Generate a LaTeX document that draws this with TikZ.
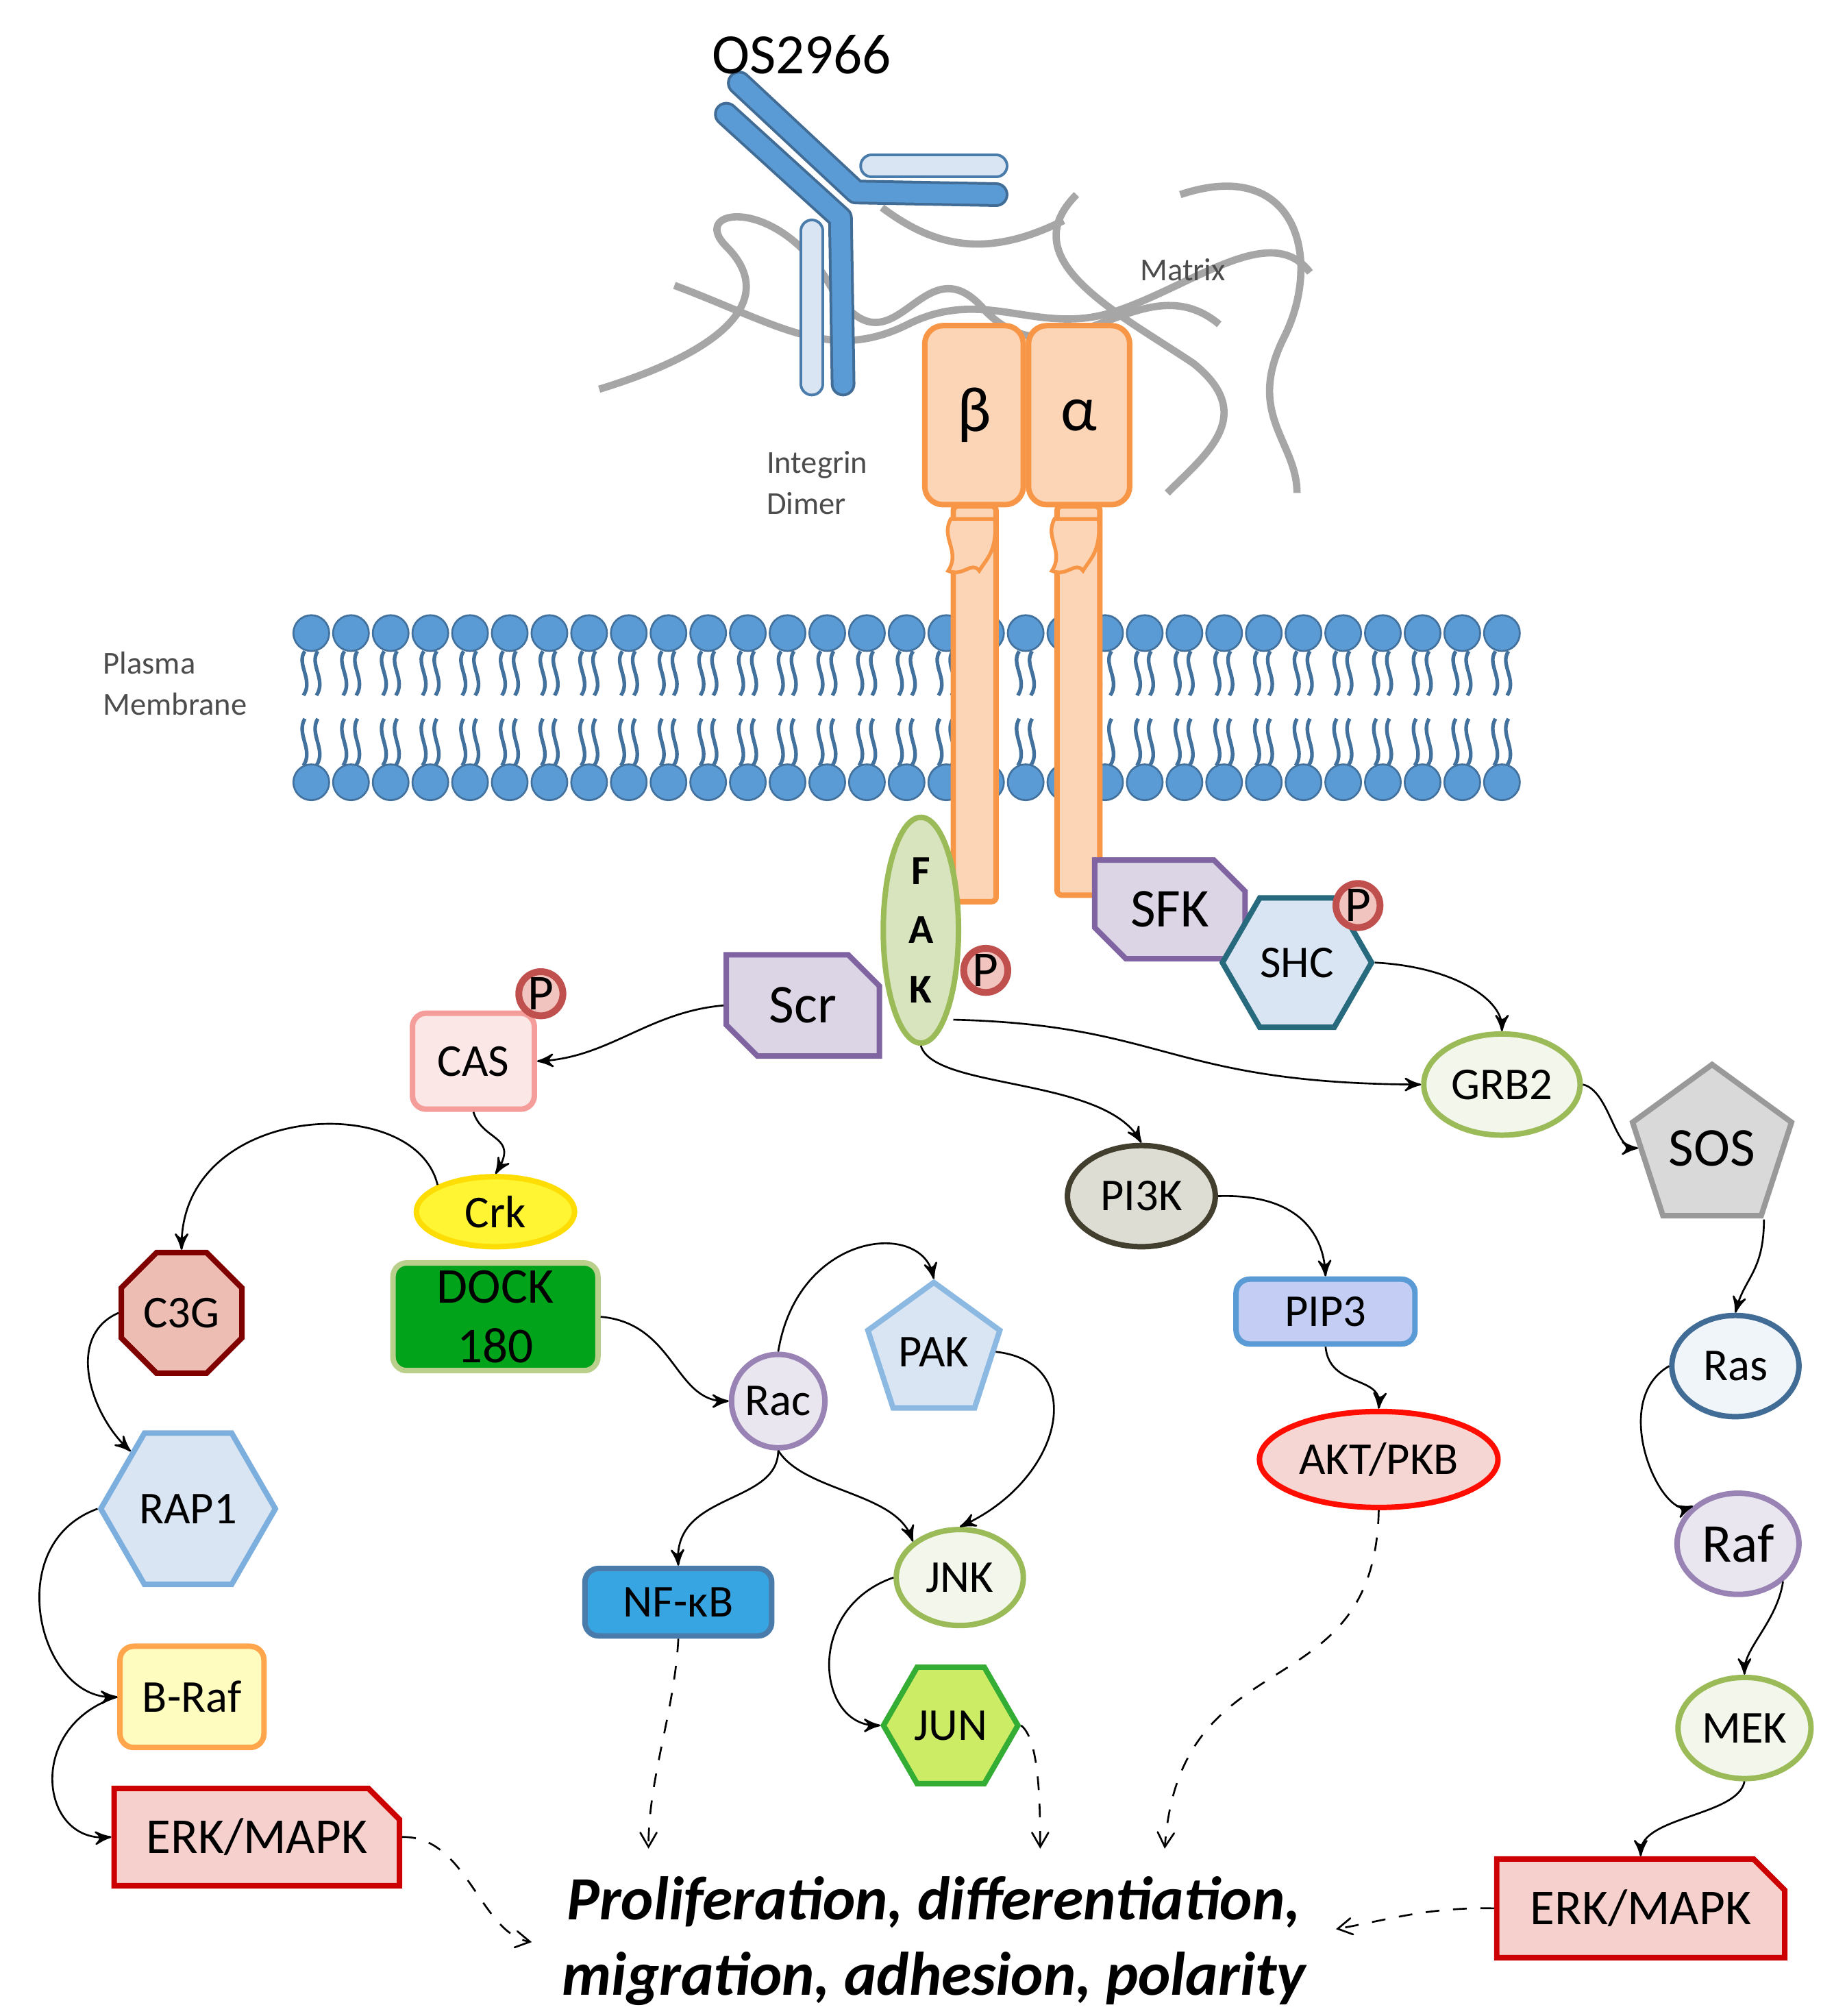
\documentclass[tikz,border=0pt]{standalone}
\usepackage{fontspec}
\setmainfont{Carlito}
\usepackage{tikz}
\usetikzlibrary{arrows,shapes.geometric,shapes.misc,calc,positioning}
\definecolor{memb}{HTML}{5B9BD5}
\definecolor{membd}{HTML}{41719C}
\definecolor{igfill}{HTML}{FBD5B5}
\definecolor{igline}{HTML}{F79646}
\definecolor{purpf}{HTML}{DCD5E6}
\definecolor{purpl}{HTML}{8064A2}
\definecolor{bluef}{HTML}{DAE5F3}
\definecolor{bluel}{HTML}{31859C}
\definecolor{pinkf}{HTML}{F2C4C0}
\definecolor{pinkl}{HTML}{C0504D}
\definecolor{greenf}{HTML}{D7E4BD}
\definecolor{greenl}{HTML}{9BBB59}
\tikzset{
  prot/.style={draw, line width=1.2pt, font=\fontsize{10}{11}\selectfont, inner sep=1pt, align=center},
  arr/.style={->, >=stealth', thin, black},
  darr/.style={->, >=angle 60, thin, black, dashed},
  phos/.style={circle, draw=pinkl, fill=pinkf, line width=1.5pt, minimum size=3.4mm, inner sep=0pt, font=\fontsize{11}{11}\selectfont},
  chamf/.style={prot, chamfered rectangle, chamfered rectangle corners={north east,south west}, chamfered rectangle xsep=1.2mm, chamfered rectangle ysep=1.2mm}
}
\begin{document}
\begin{tikzpicture}[x=0.1mm, y=-0.1mm]
  \useasboundingbox (0,0) rectangle (1414,1554);
  % matrix fibres
  \begin{scope}[gray!70, line width=1.6pt]
    \draw (462,300) .. controls (560,270) and (600,230) .. (560,190) .. controls (530,160) and (600,150) .. (640,220) .. controls (690,300) and (710,180) .. (760,240) .. controls (820,300) and (880,200) .. (940,250);
    \draw (520,220) .. controls (600,250) and (640,280) .. (700,250) .. controls (760,220) and (800,260) .. (860,240) .. controls (920,220) and (980,170) .. (1010,210);
    \draw (830,150) .. controls (780,200) and (860,240) .. (920,280) .. controls (970,320) and (930,350) .. (900,380);
    \draw (910,150) .. controls (1000,120) and (1020,200) .. (990,260) .. controls (960,320) and (1000,340) .. (1000,380);
    \draw (680,160) .. controls (720,190) and (760,200) .. (820,170);
  \end{scope}
  \node (matrix) at (912,208) {\fontsize{7}{8}\selectfont\color{black!70}Matrix};
  % antibody
  \begin{scope}[line cap=round, line join=round]
    \draw[line width=5.4pt, memb!80!black] (672,128) -- (768,128);
    \draw[line width=4.2pt, bluef] (672,128) -- (768,128);
    \draw[line width=5.4pt, memb!80!black] (626,178) -- (626,296);
    \draw[line width=4.2pt, bluef] (626,178) -- (626,296);
    \draw[line width=5.4pt, memb!70!black] (570,64) -- (660,148) -- (768,150);
    \draw[line width=4.2pt, memb] (570,64) -- (660,148) -- (768,150);
    \draw[line width=5.4pt, memb!70!black] (560,88) -- (648,168) -- (650,296);
    \draw[line width=4.2pt, memb] (560,88) -- (648,168) -- (650,296);
  \end{scope}
  \node (os) at (618,42) {\fontsize{12.5}{14}\selectfont OS2966};
  % membrane
  \foreach \i in {0,...,30}{
    \pgfmathsetmacro{\xx}{240+30.6*\i}
    \draw[membd, thick] (\xx-5,502) .. controls (\xx-12,512) and (\xx+2,524) .. (\xx-6,536);
    \draw[membd, thick] (\xx+5,502) .. controls (\xx-2,512) and (\xx+12,524) .. (\xx+4,536);
    \draw[membd, thick] (\xx-5,554) .. controls (\xx-12,566) and (\xx+2,578) .. (\xx-6,590);
    \draw[membd, thick] (\xx+5,554) .. controls (\xx-2,566) and (\xx+12,578) .. (\xx+4,590);
    \draw[membd, fill=memb] (\xx,488) circle[radius=1.38mm];
    \draw[membd, fill=memb] (\xx,603) circle[radius=1.38mm];
  }
  \node[align=left, font=\fontsize{7}{9}\selectfont, text=black!70] (plasma) at (135,527) {Plasma\\Membrane};
  % integrin dimer
  \draw[igline, fill=igfill, line width=1.2pt, rounded corners=1pt] (735,390) rectangle (768,695);
  \draw[igline, fill=igfill, line width=1.2pt, rounded corners=1pt] (815,390) rectangle (848,690);
  \foreach \lx in {751,831}{
    \draw[igline, fill=igfill, thick] (\lx-18,400) .. controls (\lx-26,415) and (\lx-10,425) .. (\lx-20,440) .. controls (\lx-8,445) and (\lx-2,432) .. (\lx+4,440) .. controls (\lx+10,430) and (\lx+18,425) .. (\lx+16,400) -- cycle;
  }
  \node[prot, draw=igline, fill=igfill, rounded corners=4pt, minimum width=7.6mm, minimum height=13.8mm, font=\fontsize{14}{14}\selectfont] (beta) at (751,320) {β};
  \node[prot, draw=igline, fill=igfill, rounded corners=4pt, minimum width=7.8mm, minimum height=13.8mm, font=\fontsize{14}{14}\selectfont] (alpha) at (832,320) {α};
  \node[align=left, font=\fontsize{7}{9}\selectfont, text=black!70] (integrin) at (630,372) {Integrin\\Dimer};
  % proteins
  \node[prot, ellipse, draw=greenl, fill=greenf, minimum width=5.8mm, minimum height=17.4mm, font=\fontsize{9}{13}\selectfont\bfseries] (fak) at (710,717) {F\\A\\K};
  \node[phos] (pfak) at (760,748) {P};
  \node[chamf, draw=purpl, fill=purpf, minimum width=11.6mm, minimum height=7.6mm, font=\fontsize{12}{12}\selectfont] (sfk) at (902,701) {SFK};
  \node[chamf, draw=purpl, fill=purpf, minimum width=11.8mm, minimum height=7.8mm, font=\fontsize{12}{12}\selectfont] (scr) at (619,775) {Scr};
  \node[prot, regular polygon, regular polygon sides=6, draw=bluel!80!black, fill=bluef, minimum size=11.5mm, inner sep=0pt] (shc) at (1000,742) {SHC};
  \node[phos] (pshc) at (1047,698) {P};
  \node[prot, rounded corners=3pt, draw=pinkf!80!red, fill=pinkf!40, minimum width=9.4mm, minimum height=7.4mm] (cas) at (365,818) {CAS};
  \node[phos] (pcas) at (417,766) {P};
  \node[prot, ellipse, draw=greenl, fill=greenf!30, minimum width=11.4mm, minimum height=7.8mm] (grb2) at (1158,836) {GRB2};
  \node[prot, regular polygon, regular polygon sides=5, draw=gray!80, fill=gray!30, minimum size=12.6mm, font=\fontsize{12}{12}\selectfont] (sos) at (1320,885) {SOS};
  \node[prot, ellipse, draw=black!70!olive, fill=olive!15!gray!30, minimum width=11.4mm, minimum height=7.8mm] (pi3k) at (880,922) {PI3K};
  \node[prot, ellipse, draw=yellow!80!orange, fill=yellow!80, minimum width=12.2mm, minimum height=5.4mm] (crk) at (382,934) {Crk};
  \node[prot, rounded corners=3pt, draw=greenl!70, fill=green!60!black!90!cyan, minimum width=15.8mm, minimum height=8.3mm, font=\fontsize{11}{13}\selectfont] (dock) at (382,1015) {DOCK\\180};
  \node[prot, regular polygon, regular polygon sides=8, draw=red!50!black, fill=pinkf!90!brown, minimum size=8.8mm] (c3g) at (140,1012) {C3G};
  \node[prot, rounded corners=3pt, draw=memb, fill=bluef!90!blue, minimum width=13.8mm, minimum height=5mm] (pip3) at (1022,1011) {PIP3};
  \node[prot, ellipse, draw=memb!70!black, fill=bluef!40, minimum width=9.8mm, minimum height=7.8mm] (ras) at (1338,1053) {Ras};
  \node[prot, regular polygon, regular polygon sides=5, draw=memb!70, fill=bluef, minimum size=8.8mm] (pak) at (720,1042) {PAK};
  \node[prot, circle, draw=purpl!80, fill=purpf!60, minimum size=7.2mm] (rac) at (600,1080) {Rac};
  \node[prot, ellipse, draw=red!90!orange, fill=pinkf!70, minimum width=17.8mm, minimum height=7.4mm] (akt) at (1063,1125) {AKT/PKB};
  \node[prot, regular polygon, regular polygon sides=6, draw=memb!80, fill=bluef, minimum size=13.4mm] (rap1) at (145,1163) {RAP1};
  \node[prot, ellipse, draw=purpl!80, fill=purpf!60, minimum width=9.4mm, minimum height=7.8mm, font=\fontsize{12}{12}\selectfont] (raf) at (1340,1190) {Raf};
  \node[prot, ellipse, draw=greenl, fill=greenf!30, minimum width=9.8mm, minimum height=7.4mm] (jnk) at (740,1216) {JNK};
  \node[prot, rounded corners=3pt, draw=memb!80!black, fill=cyan!80!blue!80, minimum width=14.4mm, minimum height=5.2mm] (nfkb) at (523,1235) {NF-κB};
  \node[prot, rounded corners=3pt, draw=orange!70, fill=yellow!25, minimum width=11.1mm, minimum height=7.8mm] (braf) at (148,1308) {B-Raf};
  \node[prot, regular polygon, regular polygon sides=6, draw=green!60!black!80, fill=green!45!olive!45!yellow!60, minimum size=8.4mm] (jun) at (733,1330) {JUN};
  \node[prot, ellipse, draw=greenl, fill=greenf!30, minimum width=9.4mm, minimum height=7.8mm] (mek) at (1345,1332) {MEK};
  \node[chamf, chamfered rectangle corners={north east}, draw=red!80!black, fill=pinkf!80, minimum width=22mm, minimum height=7.5mm, font=\fontsize{11}{11}\selectfont] (erkl) at (198,1416) {ERK/MAPK};
  \node[chamf, chamfered rectangle corners={north east}, draw=red!80!black, fill=pinkf!80, minimum width=22.2mm, minimum height=7.6mm, font=\fontsize{11}{11}\selectfont] (erkr) at (1265,1471) {ERK/MAPK};
  \node[font=\fontsize{13.5}{16.5}\selectfont\bfseries\itshape, align=center] (out) at (720,1496) {Proliferation, differentiation,\\migration, adhesion, polarity};
  % signalling
  \draw[arr] (scr.west) .. controls (500,780) and (470,815) .. (cas.east);
  \draw[arr] (fak.south) .. controls (720,840) and (850,830) .. (pi3k.north);
  \draw[arr] (735,786) .. controls (900,790) and (900,835) .. (grb2.west);
  \draw[arr] (shc.east) .. controls (1120,745) and (1158,770) .. (grb2.north);
  \draw[arr] (grb2.east) .. controls (1240,840) and (1245,885) .. (sos.west);
  \draw[arr] (1360,940) .. controls (1360,980) and (1345,985) .. (ras.north);
  \draw[arr] (cas.south) .. controls (372,880) and (400,875) .. (crk.north);
  \draw[arr] (crk.north west) .. controls (320,840) and (140,850) .. (c3g.north);
  \draw[arr] (dock.east) .. controls (520,1020) and (520,1080) .. (rac.west);
  \draw[arr] (rac.north) .. controls (615,950) and (710,940) .. (pak.north);
  \draw[arr] (pak.east) .. controls (840,1050) and (820,1140) .. (jnk.north);
  \draw[arr] (rac.south) .. controls (600,1160) and (520,1150) .. (nfkb.north);
  \draw[arr] (rac.south) .. controls (620,1150) and (690,1150) .. (jnk.north west);
  \draw[arr] (jnk.west) .. controls (620,1240) and (630,1330) .. (jun.west);
  \draw[arr] (pi3k.east) .. controls (1000,920) and (1020,950) .. (pip3.north);
  \draw[arr] (pip3.south) .. controls (1025,1070) and (1065,1060) .. (akt.north);
  \draw[arr] (c3g.west) .. controls (50,1030) and (70,1090) .. (rap1.north west);
  \draw[arr] (rap1.west) .. controls (0,1190) and (30,1310) .. (braf.west);
  \draw[arr] (braf.west) .. controls (20,1330) and (30,1420) .. (erkl.west);
  \draw[arr] (ras.west) .. controls (1240,1080) and (1280,1170) .. (raf.north west);
  \draw[arr] (raf.south east) .. controls (1370,1250) and (1345,1270) .. (mek.north);
  \draw[arr] (mek.south) .. controls (1340,1400) and (1265,1400) .. (erkr.north);
  % outcomes
  \coordinate (o1) at (410,1497);
  \coordinate (o2) at (500,1425);
  \coordinate (o3) at (802,1425);
  \coordinate (o4) at (898,1425);
  \coordinate (o5) at (1030,1487);
  \draw[darr] (erkl.east) .. controls (360,1415) and (370,1490) .. (o1);
  \draw[darr] (nfkb.south) .. controls (520,1320) and (500,1370) .. (o2);
  \draw[darr] (jun.east) .. controls (800,1340) and (802,1380) .. (o3);
  \draw[darr] (akt.south) .. controls (1060,1320) and (910,1260) .. (o4);
  \draw[darr] (erkr.west) .. controls (1100,1470) and (1070,1480) .. (o5);
\end{tikzpicture}
\end{document}
